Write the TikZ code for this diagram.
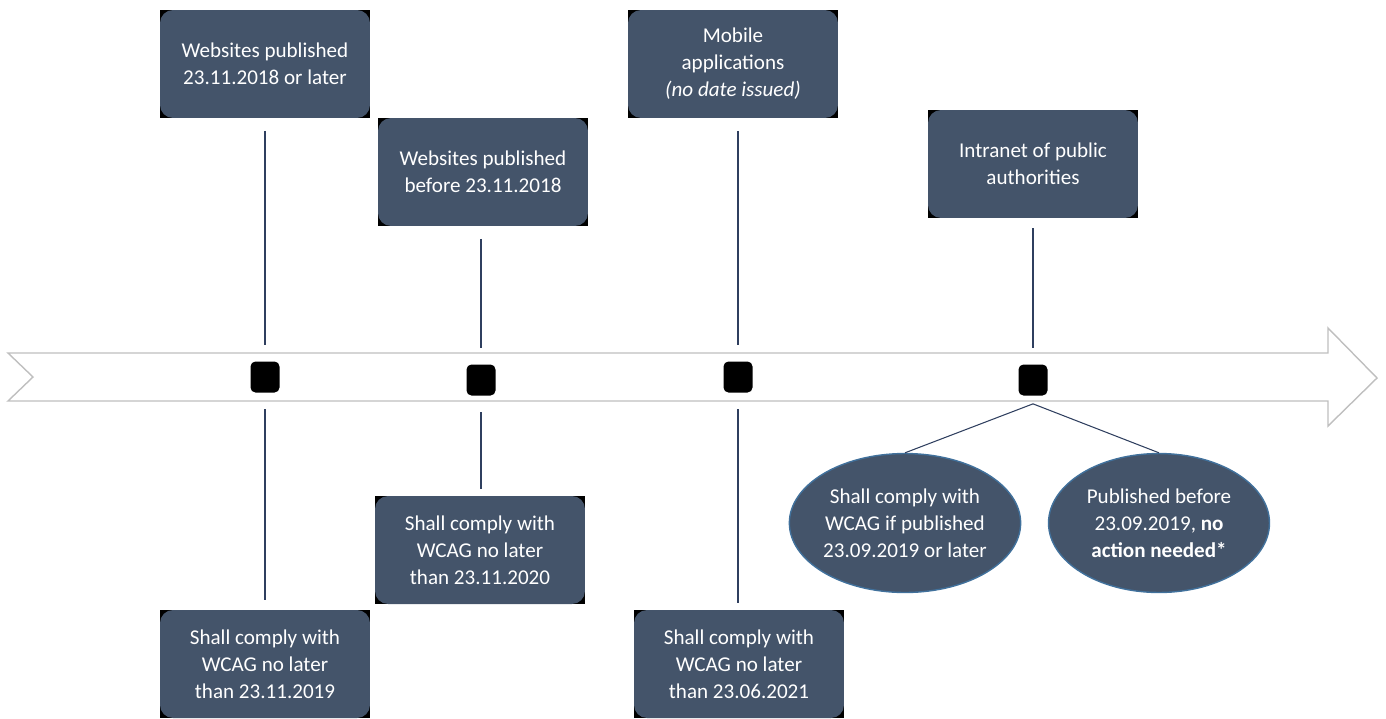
\documentclass[tikz,border=0pt]{standalone}
\usepackage{fontspec}
\setmainfont{Carlito}
\usetikzlibrary{shapes.geometric}
\definecolor{myslate}{HTML}{44546A}
\definecolor{myedge}{HTML}{41719C}
\definecolor{mystem}{HTML}{2F3F5F}
\colorlet{myarrow}{black!25}
\tikzset{
    card/.style={rectangle, fill=black, minimum width=4.2cm, minimum height=2.16cm,
        inner sep=0pt, text=white, align=center, font=\fontsize{12}{15.3}\selectfont,
        path picture={\fill[myslate, rounded corners=0.26cm] (path picture bounding box.south west) rectangle (path picture bounding box.north east);}},
    oval/.style={ellipse, fill=myslate, draw=myedge, thick, minimum width=4.42cm, minimum height=2.78cm,
        inner sep=0pt, text=white, align=center, font=\fontsize{12}{15.3}\selectfont},
    mark box/.style={rectangle, fill=black, rounded corners=0.1cm, minimum width=0.58cm, minimum height=0.62cm, inner sep=0pt},
    stemup/.style={draw=mystem, semithick, shorten <=0.25cm, shorten >=0.33cm},
    stemdown/.style={draw=mystem, semithick, shorten <=0.33cm, shorten >=0.2cm},
}
\begin{document}
\begin{tikzpicture}[x=0.02cm, y=-0.02cm]
    \useasboundingbox (0,0) rectangle (1386,718);

    % time line
    \draw[myarrow, thick, line join=miter] (8,353) -- (1328,353) -- (1328,328) -- (1377,378)
        -- (1328,426) -- (1328,401) -- (8,401) -- (33,377) -- cycle;

    \node[mark box] (m1) at (265,377) {};
    \node[mark box] (m2) at (481,380) {};
    \node[mark box] (m3) at (738,377) {};
    \node[mark box] (m4) at (1033,380) {};
    \coordinate (t4) at ([yshift=-0.16cm]m4.south);

    % above
    \node[card] (b1) at (265,64) {Websites published\\23.11.2018 or later};
    \node[card] (b2) at (483,172) {Websites published\\before 23.11.2018};
    \node[card] (b3) at (733,64) {Mobile\\applications\\\textit{(no date issued)}};
    \node[card] (b4) at (1033,164) {Intranet of public\\authorities};

    % below
    \node[card] (b5) at (265,664) {Shall comply with\\WCAG no later\\than 23.11.2019};
    \node[card] (b6) at (480,550) {Shall comply with\\WCAG no later\\than 23.11.2020};
    \node[card] (b7) at (739,664) {Shall comply with\\WCAG no later\\than 23.06.2021};
    \node[oval] (e1) at (905,523) {Shall comply with\\WCAG if published\\23.09.2019 or later};
    \node[oval] (e2) at (1159,523) {Published before\\23.09.2019, \textbf{no}\\\textbf{action needed*}};

    \draw[stemup] (b1.south -| m1) -- (m1);
    \draw[stemup] (b2.south -| m2) -- (m2);
    \draw[stemup] (b3.south -| m3) -- (m3);
    \draw[stemup, shorten <=0.2cm] (b4.south -| m4) -- (m4);

    \draw[stemdown] (m1) -- (b5.north -| m1);
    \draw[stemdown, shorten >=0.14cm] (m2) -- (b6.north -| m2);
    \draw[stemdown, shorten >=0.14cm] (m3) -- (b7.north -| m3);

    \draw[mystem, semithick] (t4) -- (e1.north);
    \draw[mystem, semithick] (t4) -- (e2.north);

\end{tikzpicture}
\end{document}
